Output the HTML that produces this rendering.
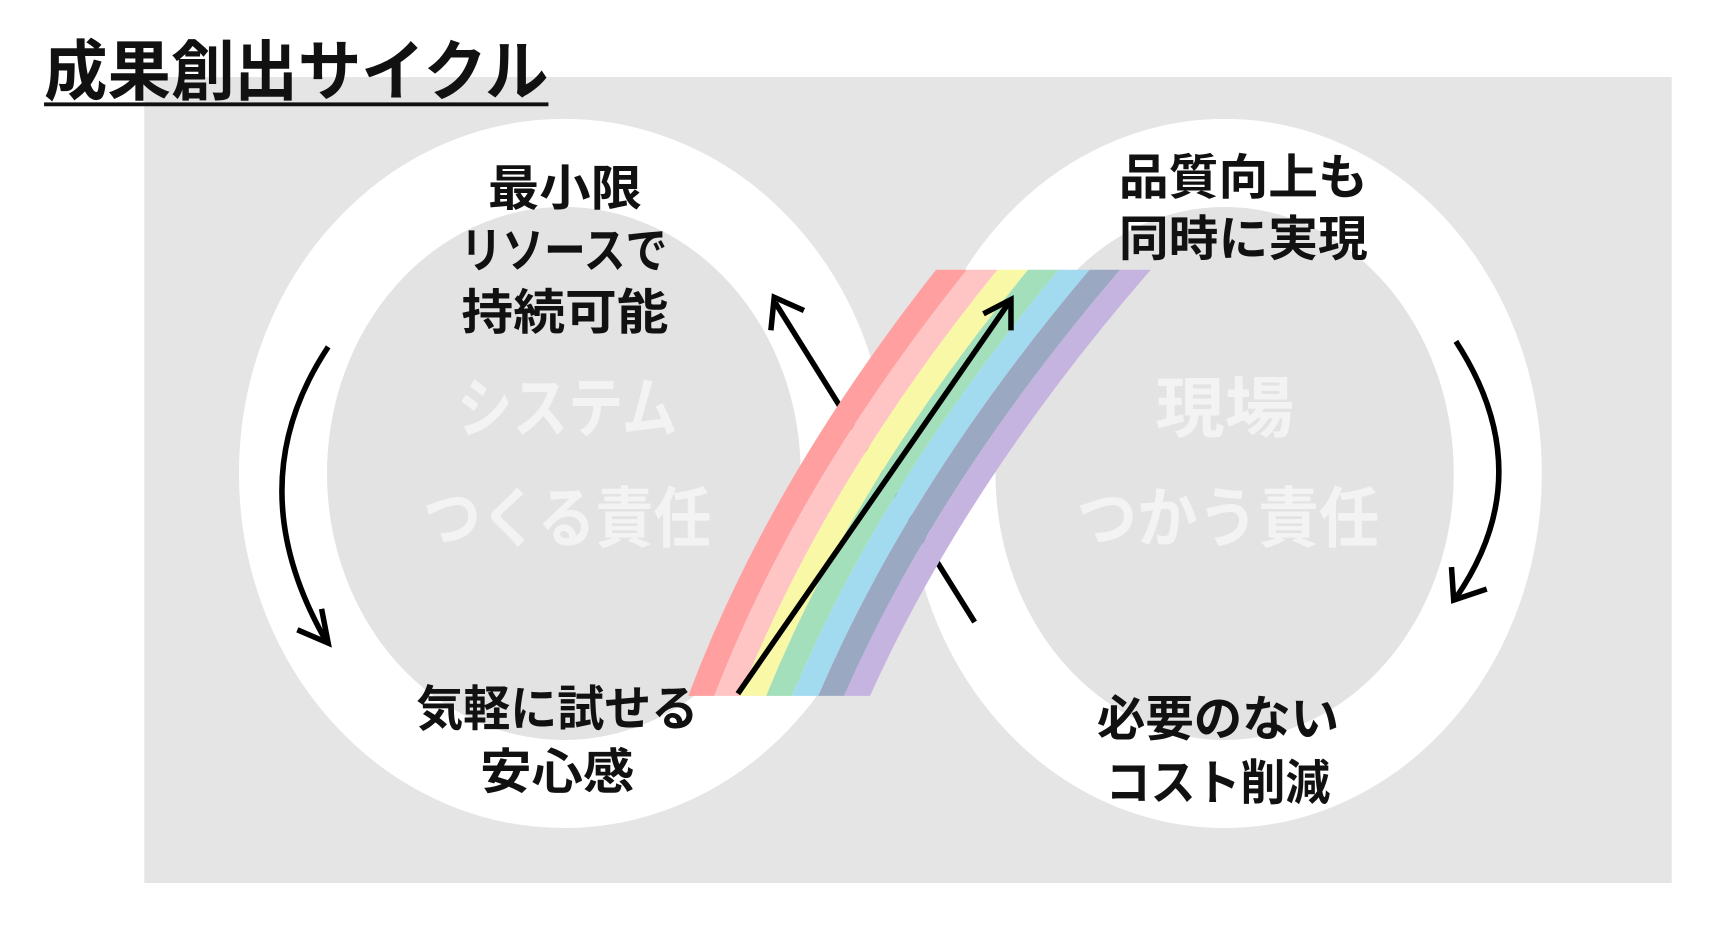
<!DOCTYPE html>
<html><head><meta charset="utf-8"><style>
html,body{margin:0;padding:0;background:#fff;width:1718px;height:926px;overflow:hidden}
svg text{font-family:"Liberation Sans","Noto Sans CJK JP",sans-serif;font-weight:bold}
</style></head><body>
<svg width="1718" height="926" viewBox="0 0 1560 841" preserveAspectRatio="none" xmlns="http://www.w3.org/2000/svg">
<rect x="131" y="70" width="1387" height="732" fill="#e5e5e5"/>
<text x="40" y="86" font-size="60" textLength="458" lengthAdjust="spacingAndGlyphs" fill="#111">成果創出サイクル</text>
<rect x="40" y="93" width="458" height="3.5" fill="#111"/>
<ellipse cx="512" cy="430" rx="255" ry="282" fill="none" stroke="#fff" stroke-width="80"/>
<ellipse cx="1112" cy="430" rx="248" ry="282" fill="none" stroke="#fff" stroke-width="80"/>
<ellipse cx="512" cy="430" rx="215" ry="242" fill="#e3e3e3"/>
<ellipse cx="1112" cy="430" rx="208" ry="242" fill="#e3e3e3"/>
<g fill="#f3f3f3" font-size="60">
<text x="515" y="392" text-anchor="middle" textLength="200" lengthAdjust="spacingAndGlyphs">システム</text>
<text x="515" y="492" text-anchor="middle" textLength="262" lengthAdjust="spacingAndGlyphs">つくる責任</text>
<text x="1112" y="392" text-anchor="middle" textLength="126" lengthAdjust="spacingAndGlyphs">現場</text>
<text x="1115" y="492" text-anchor="middle" textLength="275" lengthAdjust="spacingAndGlyphs">つかう責任</text>
</g>
<line x1="885" y1="565" x2="704" y2="275" stroke="#000" stroke-width="5"/>
<polyline points="700,300 703,270 730,282" fill="none" stroke="#000" stroke-width="5"/>
<g>
<path d="M625,632 Q697.5,438 850,245 L877.9,245 Q723.2,438 648.6,632 Z" fill="#ff9f9f"/>
<path d="M648.6,632 Q723.2,438 877.9,245 L905.7,245 Q748.9,438 672.1,632 Z" fill="#ffc4c4"/>
<path d="M672.1,632 Q748.9,438 905.7,245 L933.6,245 Q774.6,438 695.7,632 Z" fill="#f8f8a6"/>
<path d="M695.7,632 Q774.6,438 933.6,245 L961.4,245 Q800.4,438 719.3,632 Z" fill="#a2dfba"/>
<path d="M719.3,632 Q800.4,438 961.4,245 L989.3,245 Q826.1,438 742.9,632 Z" fill="#a2daf0"/>
<path d="M742.9,632 Q826.1,438 989.3,245 L1017.1,245 Q851.8,438 766.4,632 Z" fill="#9ba8c2"/>
<path d="M766.4,632 Q851.8,438 1017.1,245 L1045,245 Q877.5,438 790,632 Z" fill="#c6b4e0"/>
</g>
<line x1="670" y1="630" x2="916" y2="275" stroke="#000" stroke-width="5"/>
<polyline points="893,285 918,272 918,300" fill="none" stroke="#000" stroke-width="5"/>
<path d="M298,315 Q215,440 296,582" fill="none" stroke="#000" stroke-width="5"/>
<polyline points="270,572 298,584 292,553" fill="none" stroke="#000" stroke-width="5"/>
<path d="M1322,310 Q1400,430 1322,543" fill="none" stroke="#000" stroke-width="5"/>
<polyline points="1318,515 1320,545 1350,535" fill="none" stroke="#000" stroke-width="5"/>
<g fill="#111" font-size="44" text-anchor="middle">
<text x="513" y="186" textLength="140" lengthAdjust="spacingAndGlyphs">最小限</text>
<text x="512" y="243" textLength="188" lengthAdjust="spacingAndGlyphs">リソースで</text>
<text x="513" y="299" textLength="188" lengthAdjust="spacingAndGlyphs">持続可能</text>
<text x="1129" y="176" textLength="226" lengthAdjust="spacingAndGlyphs">品質向上も</text>
<text x="1129" y="232" textLength="226" lengthAdjust="spacingAndGlyphs">同時に実現</text>
<text x="506" y="659" textLength="256" lengthAdjust="spacingAndGlyphs">気軽に試せる</text>
<text x="506" y="716" textLength="140" lengthAdjust="spacingAndGlyphs">安心感</text>
<text x="1106" y="668" textLength="220" lengthAdjust="spacingAndGlyphs">必要のない</text>
<text x="1106" y="726" textLength="204" lengthAdjust="spacingAndGlyphs">コスト削減</text>
</g>
</svg>
</body></html>
